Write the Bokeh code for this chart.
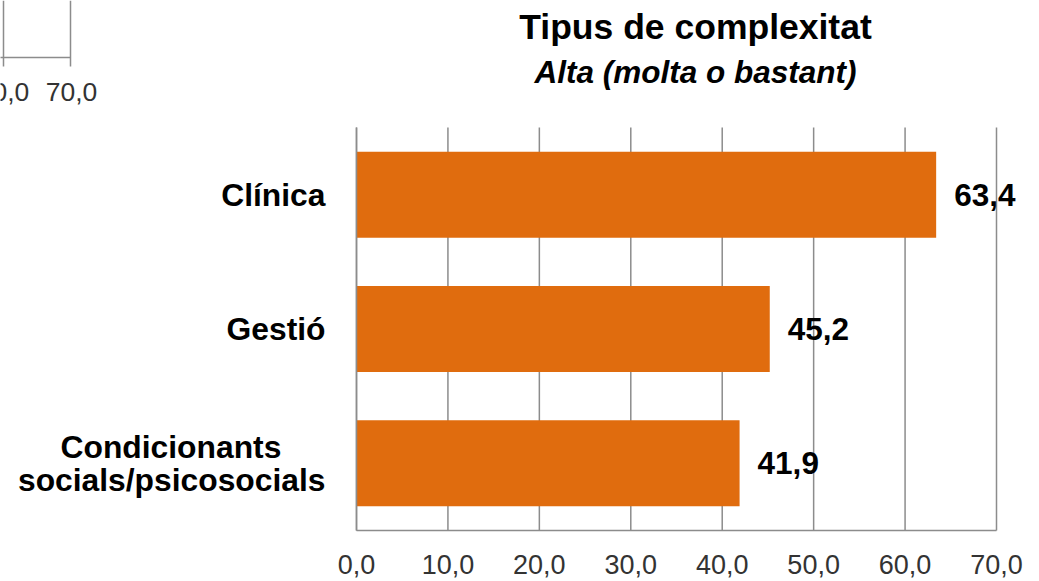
from bokeh.plotting import figure
from bokeh.models import Range1d, FixedTicker, Label, Arrow, ColumnDataSource
from bokeh.core.properties import value
from bokeh.embed import file_html
from bokeh.resources import INLINE

# ---- data ----
categories = ["Clínica", "Gestió", "Condicionants\u00a0\u00a0\u00a0\u00a0\u00a0\nsocials/psicosocials"]
values = [63.4, 45.2, 41.9]
value_labels = [f"{v:.1f}".replace(".", ",") for v in values]
x_ticks = [0, 10, 20, 30, 40, 50, 60, 70]
x_tick_labels = [f"{t:.1f}".replace(".", ",") for t in x_ticks]
title_text = "Tipus de complexitat"
subtitle_text = "Alta (molta o bastant)"
frag_ticks = ["60,0", "70,0"]

FONT = "Liberation Sans"
BAR = "#E06C0E"
GRID = "#8c8c8c"

W, H = 1039, 581
# pixel geometry of the plotting area
X0_PX, X70_PX = 356, 996          # screen x of 0 and 70
TOP_PX, BOT_PX = 127, 530         # top / bottom of the category band
n = len(categories)
ypos = list(range(n - 1, -1, -1))  # Clínica on top
px_per_x = (X70_PX - X0_PX) / 70.0
px_per_y = (BOT_PX - TOP_PX) / n
y_lo, y_hi = -0.5, n - 0.5

x_start = -X0_PX / px_per_x
x_end = (W - X0_PX) / px_per_x
y_start = y_lo - (H - BOT_PX) / px_per_y
y_end = y_hi + TOP_PX / px_per_y

p = figure(width=W, height=H, output_backend="svg", toolbar_location=None,
           x_range=Range1d(x_start, x_end), y_range=Range1d(y_start, y_end),
           min_border=0)
p.outline_line_color = None
p.background_fill_color = "white"
p.border_fill_color = "white"
p.xgrid.visible = False
p.ygrid.visible = False

# vertical grid lines (behind bars)
p.segment(x0=x_ticks, x1=x_ticks, y0=[y_lo] * len(x_ticks), y1=[y_hi] * len(x_ticks),
          line_color=GRID, line_width=1.5)

src = ColumnDataSource(dict(y=ypos, val=values, lab=value_labels))
p.hbar(y="y", right="val", left=0, height=0.64, source=src,
       fill_color=BAR, line_color=None)
p.text(x="val", y="y", text="lab", source=src, x_offset=18,
       text_font=value(FONT), text_font_style="bold", text_font_size="31.5px",
       text_color="black", text_align="left", text_baseline="middle")

# x axis
xa = p.xaxis[0]
xa.fixed_location = y_lo
xa.bounds = (0, 70)
xa.ticker = FixedTicker(ticks=x_ticks)
xa.major_label_overrides = {t: l for t, l in zip(x_ticks, x_tick_labels)}
xa.major_label_text_font = FONT
xa.major_label_text_font_size = "27px"
xa.major_label_text_color = "#333333"
xa.major_tick_out = 0
xa.major_tick_in = 0
xa.minor_tick_out = 0
xa.minor_tick_in = 0
xa.major_label_standoff = 24
xa.axis_line_color = GRID
xa.axis_line_width = 1.5

# y axis (categories)
ya = p.yaxis[0]
ya.fixed_location = 0
ya.bounds = (y_lo, y_hi)
ya.ticker = FixedTicker(ticks=ypos)
ya.major_label_overrides = {y: c for y, c in zip(ypos, categories)}
ya.major_label_text_font = FONT
ya.major_label_text_font_size = "31.8px"
ya.major_label_text_font_style = "bold"
ya.major_label_text_color = "black"
ya.major_label_text_line_height = 0.93
ya.major_tick_out = 0
ya.major_tick_in = 0
ya.minor_tick_out = 0
ya.minor_tick_in = 0
ya.major_label_standoff = 31
ya.axis_line_color = GRID
ya.axis_line_width = 1.5


def sy(cy):
    return H - cy


# titles
p.add_layout(Label(x=695, y=sy(26), x_units="screen", y_units="screen",
                   text=title_text, text_font=FONT, text_font_size="35.5px",
                   text_font_style="bold", text_color="black",
                   text_align="center", text_baseline="middle"))
p.add_layout(Label(x=695, y=sy(71), x_units="screen", y_units="screen",
                   text=subtitle_text, text_font=FONT, text_font_size="31.5px",
                   text_font_style="bold italic", text_color="black",
                   text_align="center", text_baseline="middle"))

# fragment of the neighbouring chart (top-left corner)
for (x0, y0, x1, y1) in [(70, 0, 70, 66), (3, 0, 3, 66), (-20, 57, 70, 57)]:
    p.add_layout(Arrow(end=None, x_start=x0, y_start=sy(y0), x_end=x1, y_end=sy(y1),
                       start_units="screen", end_units="screen",
                       line_color=GRID, line_width=1.5))
for t, cx in zip(frag_ticks, [3, 71]):
    p.add_layout(Label(x=cx, y=sy(91), x_units="screen", y_units="screen",
                       text=t, text_font=FONT, text_font_size="26.5px",
                       text_color="#333333", text_align="center",
                       text_baseline="middle"))

open("out.html", "w").write(file_html(p, INLINE))
